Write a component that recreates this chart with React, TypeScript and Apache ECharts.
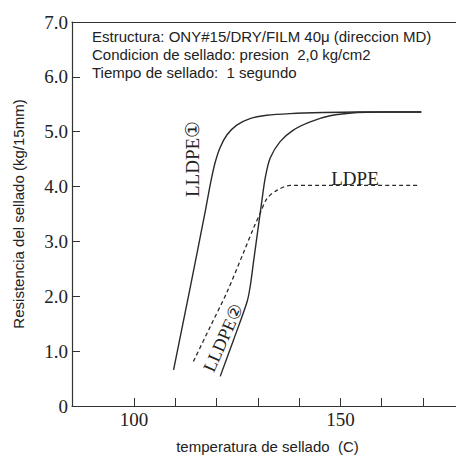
import React, { useEffect, useRef } from "react";
import * as echarts from "echarts";

// Temperature (C) / seal strength (kg/15mm)
const lldpe1Temp = [109.6, 113.6, 117.4, 118.6, 119.6, 120.8, 122.5, 124.9, 128.1, 132.2, 137.8, 145.9, 154.0, 169.6];
const lldpe1Strength = [0.66, 2.15, 3.6, 4.08, 4.42, 4.7, 4.94, 5.12, 5.24, 5.3, 5.33, 5.35, 5.36, 5.36];

const lldpe2Temp = [120.9, 124.1, 127.4, 128.2, 129.0, 130.0, 131.0, 131.8, 133.0, 135.4, 138.6, 142.7, 147.5, 154.0, 160.0, 169.6];
const lldpe2Strength = [0.54, 1.2, 1.9, 2.2, 2.65, 3.2, 3.75, 4.16, 4.52, 4.82, 5.03, 5.18, 5.29, 5.35, 5.36, 5.36];

const ldpeTemp = [114.4, 118.5, 122.5, 126.5, 129.0, 130.5, 132.2, 134.6, 137.8, 145.0, 169.2];
const ldpeStrength = [0.81, 1.45, 2.07, 2.79, 3.25, 3.5, 3.78, 3.93, 4.02, 4.02, 4.02];

const xTicks = [100, 110, 120, 130, 140, 150, 160, 170];
const xTickLabels = [100, 150];

const noteLines = [
  "Estructura: ONY#15/DRY/FILM 40\u03bc (direccion MD)",
  "Condicion de sellado: presion  2,0 kg/cm2",
  "Tiempo de sellado:  1 segundo",
];

const zip = (xs: number[], ys: number[]) => xs.map((x, i) => [x, ys[i]]);

const SERIF = "'Liberation Serif', 'DejaVu Serif', serif";
const SANS = "'Liberation Sans', Arial, sans-serif";
const INK = "#222";

export default function App() {
  const ref = useRef<HTMLDivElement>(null);
  useEffect(() => {
    document.body.style.margin = "0";
    const chart = echarts.init(ref.current!, null, { renderer: "svg" });
    const lineStyleSolid = { color: "#2a2a2a", width: 1.4 };
    chart.setOption({
      animation: false,
      backgroundColor: "#fff",
      grid: { left: 72, right: 0, top: 22, bottom: 47 },
      xAxis: [
        {
          type: "value",
          min: 85,
          max: 178,
          name: "temperatura de sellado  (C)",
          nameLocation: "middle",
          nameGap: 33,
          nameTextStyle: { fontFamily: SANS, fontSize: 15, color: INK, padding: [0, 0, 0, 7] },
          axisLine: { show: true, lineStyle: { color: "#333", width: 1.2 } },
          axisTick: { show: true, inside: true, length: 8, customValues: xTicks, lineStyle: { color: "#333" } },
          axisLabel: { customValues: xTickLabels, fontFamily: SERIF, fontSize: 19, color: INK, margin: 4 },
          splitLine: { show: false },
        },
        {
          type: "value",
          position: "top",
          min: 85,
          max: 178,
          axisLine: { show: true, lineStyle: { color: "#333", width: 1.2 } },
          axisTick: { show: false },
          axisLabel: { show: false },
          splitLine: { show: false },
        },
      ],
      yAxis: {
        type: "value",
        min: 0,
        max: 7,
        interval: 1,
        name: "Resistencia del sellado (kg/15mm)",
        nameLocation: "middle",
        nameGap: 46,
        nameTextStyle: { fontFamily: SANS, fontSize: 15, color: INK },
        axisLine: { show: true, lineStyle: { color: "#333", width: 1.2 } },
        axisTick: { show: true, inside: true, length: 8, lineStyle: { color: "#333" } },
        axisLabel: {
          fontFamily: SERIF,
          fontSize: 19,
          color: INK,
          margin: 4,
          formatter: (v: number) => (v === 0 ? "0" : v.toFixed(1)),
        },
        splitLine: { show: false },
      },
      series: [
        {
          name: "LLDPE\u2460",
          type: "line",
          data: zip(lldpe1Temp, lldpe1Strength),
          showSymbol: false,
          smooth: 0.3,
          lineStyle: lineStyleSolid,
        },
        {
          name: "LLDPE\u2461",
          type: "line",
          data: zip(lldpe2Temp, lldpe2Strength),
          showSymbol: false,
          smooth: 0.3,
          lineStyle: lineStyleSolid,
        },
        {
          name: "LDPE",
          type: "line",
          data: zip(ldpeTemp, ldpeStrength),
          showSymbol: false,
          smooth: 0.3,
          lineStyle: { color: "#2a2a2a", width: 1.3, type: [4, 3] },
        },
      ],
      graphic: [
        ...noteLines.map((t, i) => ({
          type: "text",
          x: 92,
          y: 36 + i * 18.3,
          style: { text: t, fontFamily: SANS, fontSize: 15, fill: INK, align: "left", verticalAlign: "middle" },
        })),
        {
          type: "text",
          x: 192,
          y: 159,
          rotation: Math.PI / 2,
          style: { text: "LLDPE\u2460", fontFamily: SERIF, fontSize: 19, fill: INK, align: "center", verticalAlign: "middle" },
        },
        {
          type: "text",
          x: 223,
          y: 338,
          rotation: (66 * Math.PI) / 180,
          style: { text: "LLDPE\u2461", fontFamily: SERIF, fontSize: 18, fill: INK, align: "center", verticalAlign: "middle" },
        },
        {
          type: "text",
          x: 355,
          y: 178,
          style: { text: "LDPE", fontFamily: SERIF, fontSize: 19, fill: INK, align: "center", verticalAlign: "middle" },
        },
      ],
    });
    return () => chart.dispose();
  }, []);
  return <div ref={ref} style={{ width: 456, height: 459 }} />;
}
